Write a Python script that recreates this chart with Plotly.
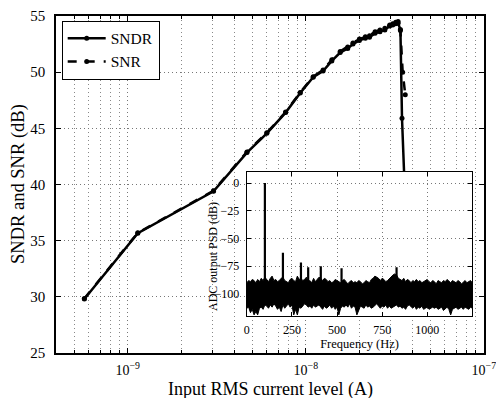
import plotly.graph_objects as go
import numpy as np

# ---------------- main chart data ----------------
sndr_current = [5.70e-10, 1.138e-9, 3.03e-9, 4.67e-9, 6.04e-9, 7.7e-9, 9.3e-9, 1.10e-8,
                1.25e-8, 1.40e-8, 1.56e-8, 1.72e-8, 1.84e-8, 2.00e-8, 2.16e-8, 2.28e-8,
                2.45e-8, 2.61e-8, 2.78e-8, 2.96e-8, 3.08e-8, 3.20e-8, 3.30e-8, 3.40e-8,
                3.47e-8, 3.78e-8]
sndr_db = [29.8, 35.66, 39.4, 42.84, 44.56, 46.4, 48.15, 49.55,
           50.1, 51.0, 51.74, 52.1, 52.5, 52.83, 53.02, 53.1,
           53.47, 53.6, 53.76, 54.1, 54.2, 54.3, 54.35, 53.8,
           45.9, 30.5]

snr_current = [5.70e-10, 1.138e-9, 3.03e-9, 4.67e-9, 6.04e-9, 7.7e-9, 9.3e-9, 1.10e-8,
               1.25e-8, 1.40e-8, 1.56e-8, 1.72e-8, 1.84e-8, 2.00e-8, 2.16e-8, 2.28e-8,
               2.45e-8, 2.61e-8, 2.78e-8, 2.96e-8, 3.08e-8, 3.20e-8, 3.30e-8, 3.40e-8,
               3.50e-8, 3.62e-8]
snr_db = [29.85, 35.7, 39.45, 42.9, 44.6, 46.45, 48.2, 49.6,
          50.2, 51.1, 51.85, 52.25, 52.6, 52.95, 53.15, 53.25,
          53.6, 53.75, 53.9, 54.2, 54.3, 54.45, 54.5, 53.7,
          50.0, 48.0]

x_major = [1e-9, 1e-8, 1e-7]
x_major_labels = ["10<sup>−9</sup>", "10<sup>−8</sup>", "10<sup>−7</sup>"]
y_ticks = [25, 30, 35, 40, 45, 50, 55]

# ---------------- inset (PSD) data ----------------
psd_freq = [0, 10, 20, 30, 40, 50, 60, 70, 80, 90, 100, 110, 120, 130, 140, 150, 160, 170, 180, 190,
            200, 210, 220, 230, 240, 250, 260, 270, 280, 290, 300, 310, 320, 330, 340, 350, 360, 370, 380, 390,
            400, 410, 420, 430, 440, 450, 460, 470, 480, 490, 500, 510, 520, 530, 540, 550, 560, 570, 580, 590,
            600, 610, 620, 630, 640, 650, 660, 670, 680, 690, 700, 710, 720, 730, 740, 750, 760, 770, 780, 790,
            800, 810, 820, 830, 840, 850, 860, 870, 880, 890, 900, 910, 920, 930, 940, 950, 960, 970, 980, 990,
            1000, 1010, 1020, 1030, 1040, 1050, 1060, 1070, 1080, 1090, 1100, 1110, 1120, 1130, 1140, 1150,
            1160, 1170, 1180, 1190, 1200, 1210, 1220, 1230, 1240, 1250]
psd_upper = [-90, -88, -89, -87, -88, -90, -87, -89, -86, -88, -85, -87, -89, -86, -84, -88, -87, -89, -88, -86,
             -85, -88, -89, -90, -87, -86, -88, -89, -84, -87, -86, -88, -87, -85, -89, -88, -90, -86, -89, -87,
             -85, -86, -88, -86, -87, -89, -88, -90, -89, -87, -88, -89, -90, -88, -87, -89, -91, -89, -88, -90,
             -89, -90, -88, -89, -91, -90, -88, -89, -90, -87, -86, -84, -85, -86, -88, -86, -87, -89, -88, -86,
             -85, -83, -82, -83, -86, -87, -88, -86, -89, -87, -88, -90, -88, -89, -87, -89, -88, -90, -89, -88,
             -87, -89, -90, -88, -89, -91, -88, -89, -90, -88, -89, -87, -89, -90, -88, -89,
             -90, -88, -89, -91, -89, -88, -90, -89, -88, -90]
psd_lower = [-113, -112, -117, -114, -119, -116, -119, -113, -112, -114, -110, -111, -113, -110, -112, -109, -111, -114, -112, -116,
             -110, -113, -111, -109, -112, -110, -119, -114, -119, -112, -113, -111, -109, -110, -112, -111, -113, -110, -112, -111,
             -110, -112, -114, -111, -113, -112, -110, -113, -111, -114, -112, -119, -113, -111, -112, -110, -112, -109, -113, -111,
             -112, -119, -114, -111, -112, -113, -110, -112, -111, -113, -112, -110, -109, -111, -113, -111, -112, -110, -113, -111,
             -113, -112, -111, -110, -112, -111, -113, -112, -114, -111, -110, -112, -113, -111, -114, -112, -113, -111, -114, -113,
             -112, -114, -113, -112, -113, -112, -114, -113, -112, -115, -113, -112, -114, -119, -114, -113,
             -112, -114, -113, -112, -114, -112, -113, -114, -112, -113]

spike_freq = [100, 200, 300, 340, 410, 525, 830]
spike_db = [0, -62.9, -71.8, -76, -75, -77, -76]

# ---------------- figure ----------------
FONT = "Liberation Serif"
fig = go.Figure()

fig.add_trace(go.Scatter(x=sndr_current, y=sndr_db, mode="lines+markers", name="SNDR",
                         line=dict(color="black", width=2.5), marker=dict(size=5, color="black"),
                         xaxis="x", yaxis="y"))
fig.add_trace(go.Scatter(x=snr_current, y=snr_db, mode="lines+markers", name="SNR",
                         line=dict(color="black", width=2.5, dash="dash"), marker=dict(size=5, color="black"),
                         xaxis="x", yaxis="y"))

# PSD envelope (lower then upper filled)
fig.add_trace(go.Scatter(x=psd_freq, y=psd_lower, mode="lines", line=dict(color="black", width=1),
                         showlegend=False, xaxis="x2", yaxis="y2"))
fig.add_trace(go.Scatter(x=psd_freq, y=psd_upper, mode="lines", line=dict(color="black", width=1),
                         fill="tonexty", fillcolor="black", showlegend=False, xaxis="x2", yaxis="y2"))
sx, sy = [], []
for f, d in zip(spike_freq, spike_db):
    sx += [f, f, None]
    sy += [-95, d, None]
fig.add_trace(go.Scatter(x=sx, y=sy, mode="lines", line=dict(color="black", width=2.2),
                         showlegend=False, xaxis="x2", yaxis="y2"))

minor_vals = []
for e in (-10, -9, -8):
    for m in range(2, 10):
        minor_vals.append(m * 10.0 ** e)

PW, PH = 496 - 56 - 12, 398 - 16 - 45  # plot area size in px

grid_dash = "1px,3px"
fig.update_layout(
    width=496, height=398,
    margin=dict(l=56, r=12, t=16, b=45),
    paper_bgcolor="white", plot_bgcolor="white",
    font=dict(family=FONT, size=14, color="black"),
    xaxis=dict(type="log", range=[np.log10(3.95e-10), -6.999], tickvals=x_major, ticktext=x_major_labels,
               ticks="inside", ticklen=5, tickcolor="black", showline=True, linecolor="black", linewidth=1.5,
               mirror="ticks", showgrid=True, gridcolor="#777", griddash=grid_dash, gridwidth=1,
               minor=dict(tickvals=minor_vals, ticks="inside", ticklen=3, tickcolor="black",
                          showgrid=True, gridcolor="#888", griddash=grid_dash, gridwidth=1),
               tickfont=dict(size=14), zeroline=False, automargin=False, ticklabelstandoff=3,
               ticklabeloverflow="allow"),
    yaxis=dict(range=[25, 55], tickvals=y_ticks, ticks="inside", ticklen=5, tickcolor="black",
               showline=True, linecolor="black", linewidth=1.5, mirror="ticks",
               showgrid=True, gridcolor="#777", griddash=grid_dash, gridwidth=1,
               tickfont=dict(size=15), zeroline=False, ticklabelstandoff=6, automargin=False),
    xaxis2=dict(domain=[0.4459, 0.9727], anchor="y2", range=[0, 1250],
                tickvals=[0, 250, 500, 750, 1000], ticks="inside", ticklen=4, tickcolor="black",
                showline=True, linecolor="black", linewidth=1.2, mirror="ticks",
                showgrid=True, gridcolor="#777", griddash=grid_dash, gridwidth=1, zeroline=False,
                tickfont=dict(size=12), automargin=False, ticklabelstandoff=3,
                title=dict(text="Frequency (Hz)", font=dict(size=12.5), standoff=1)),
    yaxis2=dict(domain=[0.1098, 0.5371], anchor="x2", range=[-120, 10],
                tickvals=[0, -25, -50, -75, -100], ticks="inside", ticklen=4, tickcolor="black",
                showline=True, linecolor="black", linewidth=1.2, mirror="ticks",
                showgrid=True, gridcolor="#777", griddash=grid_dash, gridwidth=1, zeroline=False,
                tickfont=dict(size=12), automargin=False, ticklabelstandoff=4),
    legend=dict(x=0.0133, y=0.986, xanchor="left", yanchor="top", bgcolor="white",
                bordercolor="black", borderwidth=1, font=dict(size=15.5), traceorder="normal",
                tracegroupgap=0, itemwidth=38),
    showlegend=True,
    annotations=[
        dict(text="Input RMS current level (A)", xref="paper", yref="paper",
             x=0.5, y=-(390 - 353) / PH, xanchor="center", yanchor="middle",
             showarrow=False, font=dict(size=18)),
        dict(text="SNDR and SNR (dB)", xref="paper", yref="paper", textangle=-90,
             x=(18 - 56) / PW, y=(353 - 184) / PH, xanchor="center", yanchor="middle",
             showarrow=False, font=dict(size=18.5)),
        dict(text="ADC output PSD (dB)", xref="paper", yref="paper", textangle=-90,
             x=(213 - 56) / PW, y=(353 - 257) / PH, xanchor="center", yanchor="middle",
             showarrow=False, font=dict(size=12)),
    ],
)

fig.write_html("out.html")
